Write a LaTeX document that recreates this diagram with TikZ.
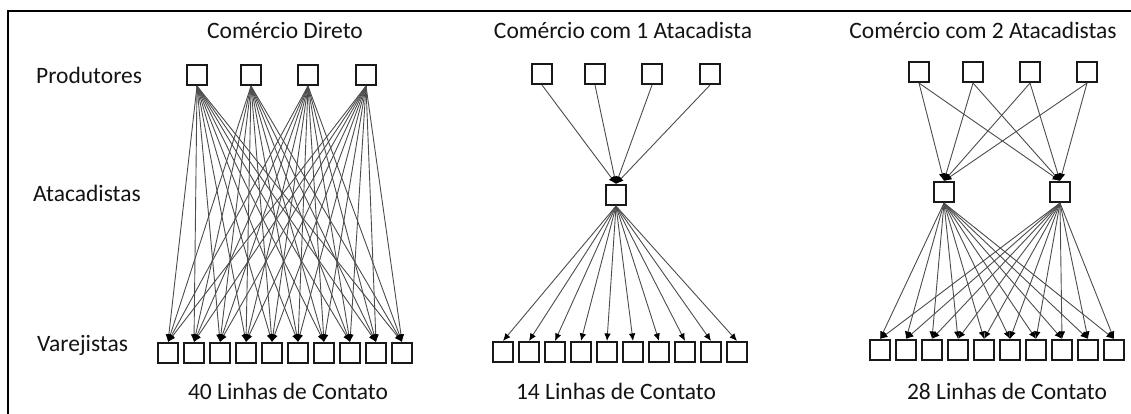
\documentclass[tikz,border=0pt]{standalone}
\usepackage{fontspec}
\setmainfont{Carlito}
\usetikzlibrary{arrows.meta}
\tikzset{
  unit/.style={draw=black!90, line width=1.6pt, fill=white, minimum width=20.5pt, minimum height=20.5pt, inner sep=0pt},
  link/.style={draw=black!70, line width=0.9pt, -{Latex[length=7.5pt,width=6.5pt,black]}},
  lbl/.style={font=\fontsize{23.5}{26}\selectfont, text=black!92, inner sep=0pt},
}
\begin{document}
\begin{tikzpicture}[x=1pt,y=-1pt]
\useasboundingbox (0,0) rectangle (1131,413);
\draw[line width=2pt] (8,420) -- (8,11) -- (1140,11);
% titles
\node[lbl, anchor=base] (t1) at (285,38) {Comércio Direto};
\node[lbl, anchor=base] (t2) at (623,38) {Comércio com 1 Atacadista};
\node[lbl, anchor=base] (t3) at (983,38) {Comércio com 2 Atacadistas};
\node[lbl, anchor=base west] (lp) at (36,83) {Produtores};
\node[lbl, anchor=base west] (la) at (33,201) {Atacadistas};
\node[lbl, anchor=base west] (lv) at (37,351) {Varejistas};
\node[lbl, anchor=base] (b1) at (288,399) {40 Linhas de Contato};
\node[lbl, anchor=base] (b2) at (616,399) {14 Linhas de Contato};
\node[lbl, anchor=base] (b3) at (1007,399) {28 Linhas de Contato};
% panel 1
\foreach \i/\x in {1/197,2/251,3/308,4/366} \node[unit] (ap\i) at (\x,75) {};
\foreach \j in {1,...,10} \node[unit] (ar\j) at ({142+26*\j},353) {};
\foreach \i in {1,...,4} \foreach \j in {1,...,10} \draw[link] (ap\i.south) -- (ar\j.north);
% panel 2
\foreach \i/\x in {1/542,2/595,3/652,4/710} \node[unit] (bp\i) at (\x,74) {};
\node[unit] (bw) at (616,195) {};
\foreach \j in {1,...,10} \node[unit] (br\j) at ({477+26*\j},352) {};
\foreach \i in {1,...,4} \draw[link] (bp\i.south) -- (bw.north);
\foreach \j in {1,...,10} \draw[link] (bw.south) -- (br\j.north);
% panel 3
\foreach \i/\x in {1/919,2/973,3/1030,4/1087} \node[unit] (cp\i) at (\x,72) {};
\node[unit] (cw1) at (944,192) {};
\node[unit] (cw2) at (1060,192) {};
\foreach \j in {1,...,10} \node[unit] (cr\j) at ({854+26*\j},350) {};
\foreach \i in {1,...,4} {\draw[link] (cp\i.south) -- (cw1.north); \draw[link] (cp\i.south) -- (cw2.north);}
\foreach \j in {1,...,10} {\draw[link] (cw1.south) -- (cr\j.north); \draw[link] (cw2.south) -- (cr\j.north);}
\end{tikzpicture}
\end{document}
